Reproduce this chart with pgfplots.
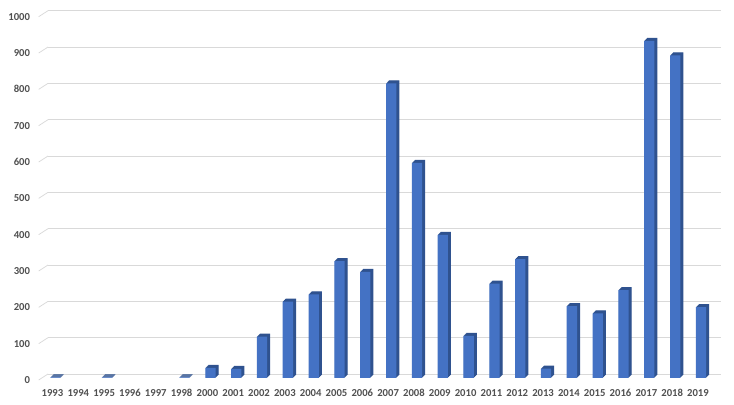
\documentclass[border=0pt]{standalone}
\usepackage{pgfplots}
\pgfplotsset{compat=1.18}
\usepackage{pgfplotstable}
\usepackage{fontspec}
\setmainfont{Carlito}
\definecolor{frontc}{HTML}{4472C4}
\definecolor{sidec}{HTML}{2F528F}
\definecolor{gridc}{HTML}{D9D9D9}
\definecolor{labelc}{HTML}{505050}
\pgfplotstableread{
x y
0 2
1 0
2 2
3 0
4 0
5 2
6 28
7 25
8 114
9 210
10 230
11 322
12 292
13 811
14 592
15 394
16 116
17 260
18 327
19 26
20 198
21 178
22 242
23 928
24 888
25 195
}\data
\begin{document}
\begin{tikzpicture}
\useasboundingbox (0,0) rectangle (734bp,405bp);
\begin{axis}[
  at={(48bp,31bp)}, anchor=south west,
  scale only axis, width=672.7bp, height=363.3bp,
  xmin=-0.174, xmax=25.88, ymin=0, ymax=1000,
  clip=false,
  axis line style={draw=none},
  major tick length=0pt,
  ymajorgrids, grid style={gridc, line width=0.75bp},
  ytick={0,100,...,1000},
  xtick={0,...,25},
  xticklabels={1993,1994,1995,1996,1997,1998,2000,2001,2002,2003,2004,2005,2006,2007,2008,2009,2010,2011,2012,2013,2014,2015,2016,2017,2018,2019},
  /pgf/number format/assume math mode=true,
  /pgf/number format/1000 sep={},
  tick label style={font=\fontsize{10.7}{12}\selectfont\bfseries, text=labelc},
  yticklabel style={xshift=-14.5pt, yshift=-6pt},
  xticklabel style={yshift=-12pt},
  bars/.style={ybar, bar width=10.3bp, bar shift=3bp, draw=none, restrict y to domain=0.5:5000},
]
\pgfplotsinvokeforeach{0,100,...,1000}{
  \draw[gridc, line width=0.75bp] (rel axis cs:0,{#1/1000}) -- ++(-9.3bp,-6bp);
}
\pgfplotsinvokeforeach{6,5,4,3,2,1}{
  \addplot[bars, fill=sidec, xshift=#1*0.5bp, yshift=#1*0.5bp-4bp] table[x=x,y=y] {\data};
}
\addplot[bars, fill=frontc, yshift=-4bp] table[x=x,y=y] {\data};
\end{axis}
\end{tikzpicture}
\end{document}
